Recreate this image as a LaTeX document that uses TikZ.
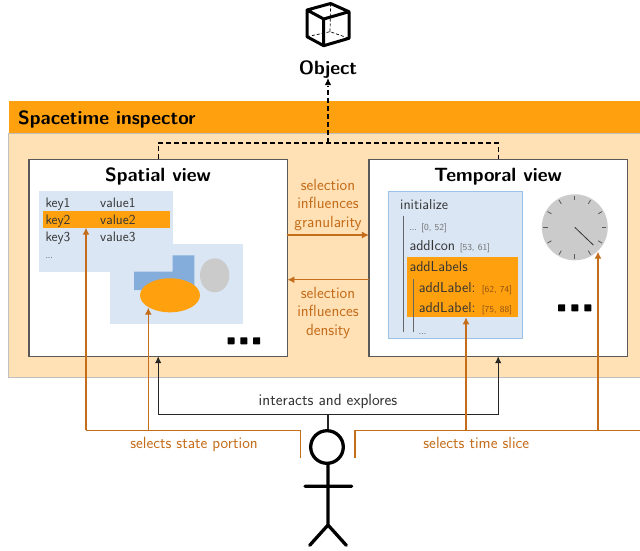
\documentclass[tikz,border=0pt]{standalone}
\usepackage{fontspec}
\usetikzlibrary{arrows.meta,shapes.geometric}
\renewcommand{\familydefault}{\sfdefault}
\definecolor{orangeC}{HTML}{FFA10F}
\definecolor{panelC}{HTML}{FFE1B5}
\definecolor{blueL}{HTML}{DAE6F4}
\definecolor{blueM}{HTML}{85ADDB}
\definecolor{blueB}{HTML}{9CC2E8}
\definecolor{brownC}{HTML}{C46D1B}
\definecolor{greyC}{HTML}{CBCBCB}
\definecolor{txtC}{HTML}{333333}
\newcommand{\fs}[1]{\fontsize{#1}{#1}\selectfont}
\tikzset{
  x=1pt,y=-1pt,
  flat/.style={inner sep=0,outer sep=0,draw=none,rectangle},
  viewbox/.style={flat,draw=black!65,line width=1.1pt,fill=white,minimum width=258.5,minimum height=197},
  title/.style={inner sep=0,anchor=base,font=\fs{19.2}\bfseries,text=black},
  tbl/.style={inner sep=0,anchor=base west,font=\fs{13.7},text=txtC},
  tre/.style={inner sep=0,anchor=base west,font=\fs{14.4},text=txtC},
  bl/.style={inner sep=0,anchor=base,font=\fs{16.2},text=brownC},
  dot/.style={flat,fill=black,rounded corners=0.6pt,minimum size=7},
  conn/.style={line width=1.2pt,draw=brownC,-{Latex[length=7pt,width=7pt]}},
  plainbrown/.style={line width=1.2pt,draw=brownC},
  blk/.style={line width=1.1pt,draw=black!85,-{Latex[length=7pt,width=6.5pt]}},
  stick/.style={line width=3.3pt,draw=black,line cap=round,line join=round},
  cubeS/.style={line width=3pt,draw=black,line join=round},
  cubeD/.style={line width=0.7pt,draw=black,densely dashed},
  dsh/.style={line width=1.1pt,draw=black,dash pattern=on 5pt off 3pt},
  tick/.style={line width=0.8pt,draw=black!65},
}
\newcommand{\rng}[1]{{\fs{9.2}\color{black!55}#1}}
\newcommand{\rngo}[1]{{\fs{9.2}\color{brownC!75!black}#1}}
\newcommand{\dd}{{\fs{8.5}...}}
\begin{document}
\begin{tikzpicture}
\useasboundingbox (0,0) rectangle (640,550);
% panel
\node[flat,fill=panelC,draw=black!25,line width=0.5pt,minimum width=640,minimum height=244,anchor=north west] (panel) at (8.5,133) {};
\node[flat,fill=orangeC,minimum width=640,minimum height=32,anchor=north west] (band) at (8.5,101) {};
\node[title,anchor=base west] (insp) at (18,124) {Spacetime inspector};
% object
\coordinate (c1) at (330.6,3.5);\coordinate (c2) at (349,11.7);\coordinate (c3) at (349,38.3);
\coordinate (c4) at (323.7,45.7);\coordinate (c5) at (307,36.7);\coordinate (c6) at (307,10);
\coordinate (c7) at (323.7,19);\coordinate (c8) at (330,31.7);
\draw[cubeD] (c1) -- (c8) (c5) -- (c8) -- (c3);
\draw[cubeS] (c1) -- (c2) -- (c3) -- (c4) -- (c5) -- (c6) -- cycle (c6) -- (c7) -- (c2) (c7) -- (c4);
\node[title] (object) at (328,74) {Object};
% views
\node[viewbox] (spatial) at (158.2,257.7) {};
\node[viewbox] (temporal) at (498.2,257.7) {};
\node[title] (spatialT) at (158,181.7) {Spatial view};
\node[title] (temporalT) at (498,181.7) {Temporal view};
% dashed
\coordinate (dj) at (328,143);
\coordinate (objTip) at (328,78);
\draw[dsh] (spatial.north) -- (spatial.north |- dj) -- (temporal.north |- dj) -- (temporal.north);
\draw[dsh] (dj) -- (328,86);
\draw[line width=1.1pt,draw=black,-{Latex[length=7pt,width=6.5pt]}] (328,85) -- (objTip);
% spatial content
\node[flat,fill=blueL,minimum width=133.4,minimum height=80.7,anchor=north west] (tablebg) at (39.3,191) {};
\node[flat,fill=blueL,minimum width=132.7,minimum height=80.6,anchor=north west] (scenebg) at (110,243.7) {};
\node[flat,fill=orangeC,minimum width=126.7,minimum height=16.7,anchor=north west] (row) at (43.3,211) {};
\node[tbl] (k1) at (45.3,207.6) {key1};
\node[tbl] (v1) at (100,207.6) {value1};
\node[tbl] (k2) at (45.3,224.2) {key2};
\node[tbl] (v2) at (100,224.2) {value2};
\node[tbl] (k3) at (45.3,241) {key3};
\node[tbl] (v3) at (100,241) {value3};
\node[tbl] (kd) at (45.3,258) {\dd};
\fill[blueM] (134,271.7) -- (172.7,271.7) -- (172.7,255.3) -- (194.3,255.3) -- (194.3,290) -- (134,290) -- cycle;
\node[ellipse,fill=greyC,inner sep=0,minimum width=29.4,minimum height=34] (grey) at (214.7,275.3) {};
\node[ellipse,fill=orangeC,inner sep=0,minimum width=60,minimum height=34] (shape) at (170,295.3) {};
\node[dot] (s1) at (231,340.8) {};
\node[dot] (s2) at (243.8,340.8) {};
\node[dot] (s3) at (256.7,340.8) {};
% temporal content
\node[flat,fill=blueL,draw=blueB,line width=0.9pt,minimum width=134,minimum height=147,anchor=north west] (trace) at (388.7,191.7) {};
\node[flat,fill=orangeC,minimum width=110.7,minimum height=60.6,anchor=north west] (hl) at (407.3,256.7) {};
\node[tre] (t0) at (400,209.3) {initialize};
\node[tre] (t1) at (409.3,230.7) {\dd\ \rng{[0, 52]}};
\node[tre] (t2) at (409.3,250.7) {addIcon\ \rng{[53, 61]}};
\node[tre] (t3) at (409.3,271.3) {addLabels};
\node[tre] (t4) at (418.7,292.3) {addLabel: \rngo{[62, 74]}};
\node[tre] (t5) at (418.7,312.7) {addLabel: \rngo{[75, 88]}};
\node[tre] (t6) at (418.7,334) {\dd};
\coordinate (v1a) at (403.7,215.7);\coordinate (v1b) at (403.7,331.7);
\coordinate (v2a) at (413.3,279);\coordinate (v2b) at (413.3,331.7);
\draw[line width=0.8pt,draw=black!60] (v1a) -- (v1b) (v2a) -- (v2b);
\node[circle,fill=greyC,inner sep=0,minimum size=66] (clock) at (574.8,227.3) {};
\foreach \a in {0,30,...,330} \draw[tick] (clock.center) ++(\a:27) -- ++(\a:4.5);
\coordinate (hand) at (593.3,245);
\draw[line width=0.8pt,draw=black!80] (clock.center) -- (hand);
\node[dot] (q1) at (561.7,307.8) {};
\node[dot] (q2) at (574.8,307.8) {};
\node[dot] (q3) at (587.8,307.8) {};
% influences
\coordinate (gy) at (328,235);
\coordinate (dy) at (328,279.7);
\draw[conn] (spatial.east |- gy) -- (temporal.west |- gy);
\draw[conn] (temporal.west |- dy) -- (spatial.east |- dy);
\node[bl] (b1) at (328,190) {selection};
\node[bl] (b2) at (328,208.5) {influences};
\node[bl] (b3) at (328,227) {granularity};
\node[bl] (b4) at (328,298.3) {selection};
\node[bl] (b5) at (328,316.7) {influences};
\node[bl] (b6) at (328,335) {density};
% person
\node[circle,draw=black,line width=3.3pt,inner sep=0,minimum size=32.6,fill=white] (head) at (327,447) {};
\coordinate (hip) at (328,525);
\coordinate (neck) at (328,464);
\coordinate (armL) at (305,486.3);\coordinate (armR) at (351.7,486.3);
\coordinate (legL) at (309.7,545.3);\coordinate (legR) at (346.3,545.3);
\draw[stick] (neck) -- (hip) (armL) -- (armR) (legL) -- (hip) -- (legR);
% interacts
\coordinate (ij) at (328,414.3);
\draw[line width=1.1pt,draw=black!85] (head.north -| ij) -- (ij);
\draw[blk] (ij) -| (spatial.south);
\draw[blk] (ij) -| (temporal.south);
\node[inner sep=0,anchor=base,font=\fs{16.3},text=txtC] (ie) at (328,405) {interacts and explores};
% selects left
\coordinate (sl0) at (300.7,457.7);\coordinate (sl1) at (300.7,430.3);
\coordinate (slb) at (148.3,430.3);\coordinate (sla) at (86,430.3);
\coordinate (tipB) at (148.3,307.7);
\draw[plainbrown] (sl0) -- (sl1) -- (sla);
\draw[conn] (sla) -- (row.south -| sla);
\draw[conn] (slb) -- (tipB);
\node[bl] (sp) at (194,448.3) {selects state portion};
% selects right
\coordinate (sr0) at (355,457.7);\coordinate (sr1) at (355,430.3);\coordinate (sre) at (640,430.3);
\coordinate (sra) at (466,430.3);\coordinate (srb) at (598,430.3);
\coordinate (tipC) at (598,251.7);
\draw[plainbrown] (sr0) -- (sr1) -- (sre);
\draw[conn] (sra) -- (hl.south -| sra);
\draw[conn] (srb) -- (tipC);
\node[bl] (ts) at (476.3,448.3) {selects time slice};
\end{tikzpicture}
\end{document}
